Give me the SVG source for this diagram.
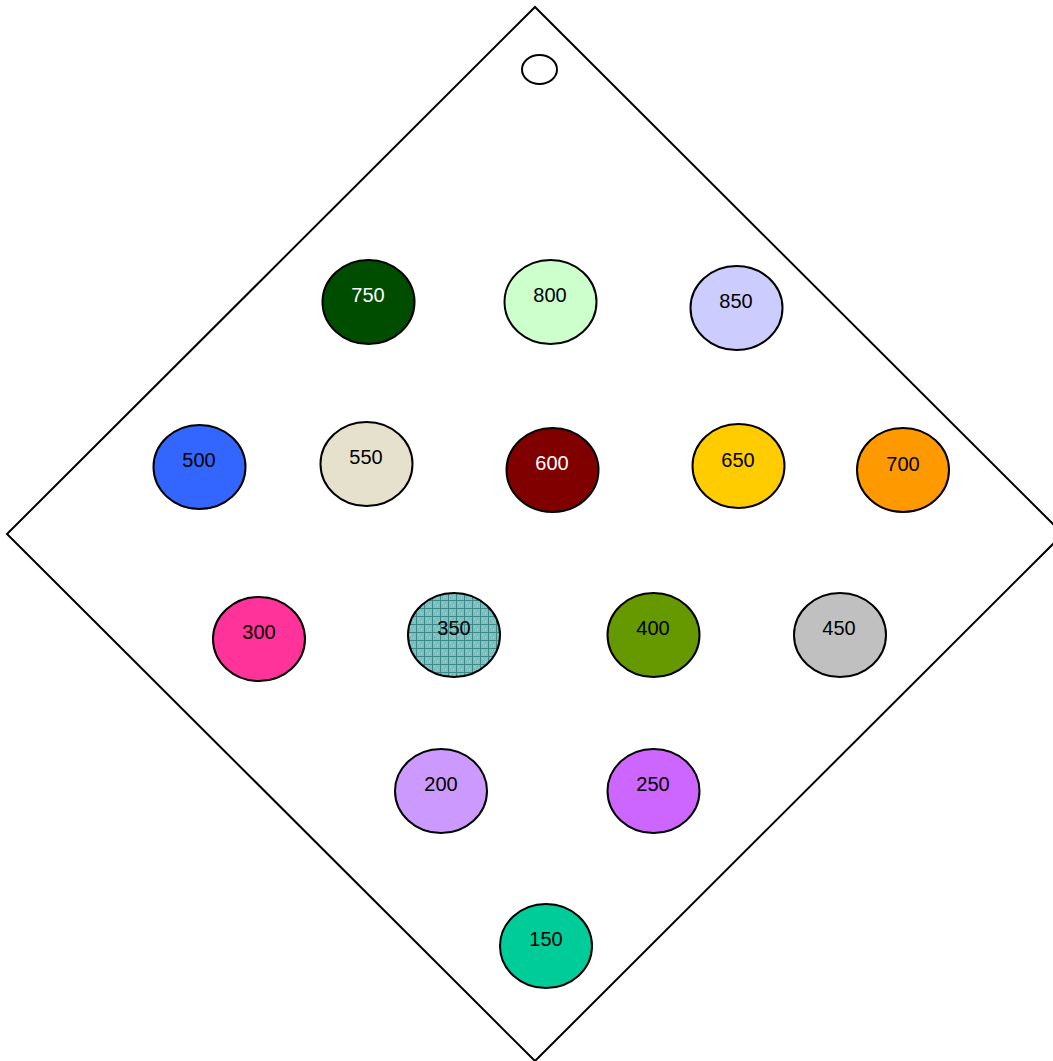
<svg xmlns="http://www.w3.org/2000/svg" width="1053" height="1061" viewBox="0 0 1053 1061">
<defs>
<pattern id="grid" width="8" height="8" patternUnits="userSpaceOnUse">
<rect width="8" height="8" fill="#80c0c0"/>
<rect x="2" y="2" width="1" height="1" fill="#a6d2d2"/>
<rect x="5" y="5" width="1" height="1" fill="#a6d2d2"/>
<rect x="2" y="5" width="1" height="1" fill="#6fb0b0"/>
<rect x="5" y="2" width="1" height="1" fill="#6fb0b0"/>
<path d="M0 0.5H8M0.5 0V8" stroke="#3a8a8a" stroke-width="1"/>
</pattern>
</defs>
<style>
.n{stroke:#000;stroke-width:2}
.t{font-family:"Liberation Sans",Arial,sans-serif;font-size:20px;text-anchor:middle;fill:#000}
.w{fill:#fff}
</style>
<g id="board">
<polygon points="535,7 1063,534 535,1061 7,534" fill="#fff" stroke="#000" stroke-width="2"/>
<ellipse cx="539.5" cy="69.5" rx="17.5" ry="14.5" fill="#fff" stroke="#000" stroke-width="2"/>
</g>
<g id="connectors"></g>
<g id="n750"><ellipse class="n" cx="368.5" cy="302" rx="46" ry="42" fill="#004d00"/><text class="t w" x="368" y="302">750</text></g>
<g id="n800"><ellipse class="n" cx="550.5" cy="302" rx="46" ry="42" fill="#ccffcc"/><text class="t" x="550" y="302">800</text></g>
<g id="n850"><ellipse class="n" cx="736.5" cy="308" rx="46" ry="42" fill="#ccccff"/><text class="t" x="736" y="308">850</text></g>
<g id="n500"><ellipse class="n" cx="199.5" cy="467" rx="46" ry="42" fill="#3366ff"/><text class="t" x="199" y="467">500</text></g>
<g id="n550"><ellipse class="n" cx="366.5" cy="464" rx="46" ry="42" fill="#e6e1cc"/><text class="t" x="366" y="464">550</text></g>
<g id="n600"><ellipse class="n" cx="552.5" cy="470" rx="46" ry="42" fill="#800000"/><text class="t w" x="552" y="470">600</text></g>
<g id="n650"><ellipse class="n" cx="738.5" cy="466" rx="46" ry="42" fill="#ffcc00"/><text class="t" x="738" y="467">650</text></g>
<g id="n700"><ellipse class="n" cx="903" cy="470" rx="46" ry="42" fill="#ff9900"/><text class="t" x="903" y="471">700</text></g>
<g id="n300"><ellipse class="n" cx="259" cy="639" rx="46" ry="42" fill="#ff3399"/><text class="t" x="259" y="639">300</text></g>
<g id="n350"><ellipse class="n" cx="454" cy="635" rx="46" ry="42" fill="url(#grid)"/><text class="t" x="454" y="635">350</text></g>
<g id="n400"><ellipse class="n" cx="653.5" cy="635" rx="46" ry="42" fill="#669900"/><text class="t" x="653" y="635">400</text></g>
<g id="n450"><ellipse class="n" cx="840" cy="635" rx="46" ry="42" fill="#c0c0c0"/><text class="t" x="839" y="635">450</text></g>
<g id="n200"><ellipse class="n" cx="441" cy="791" rx="46" ry="42" fill="#cc99ff"/><text class="t" x="441" y="791">200</text></g>
<g id="n250"><ellipse class="n" cx="653.5" cy="791" rx="46" ry="42" fill="#cc66ff"/><text class="t" x="653" y="791">250</text></g>
<g id="n150"><ellipse class="n" cx="546" cy="946" rx="46" ry="42" fill="#00cc99"/><text class="t" x="546" y="946">150</text></g>
</svg>
